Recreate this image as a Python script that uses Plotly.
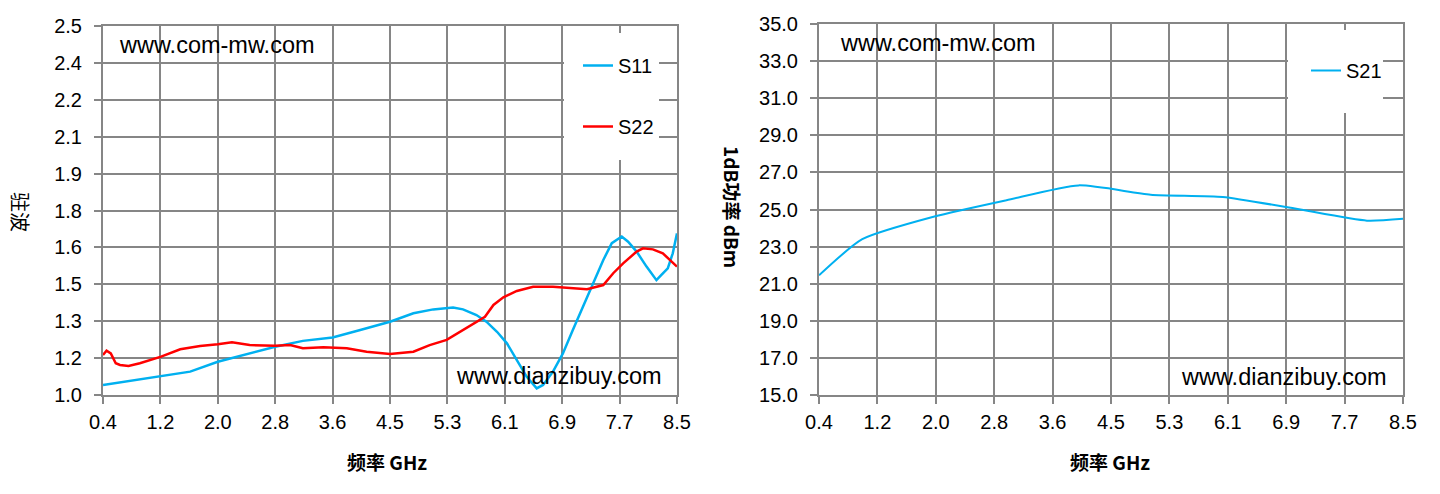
import plotly.graph_objects as go

# ---------------- data ----------------
x_tick_vals = [0.4 + 0.81 * i for i in range(11)]
x_tick_labels = ["0.4", "1.2", "2.0", "2.8", "3.6", "4.5", "5.3", "6.1", "6.9", "7.7", "8.5"]
vswr_tick_vals = [1.0 + 0.15 * i for i in range(11)]
vswr_tick_labels = ["1.0", "1.2", "1.3", "1.5", "1.6", "1.8", "1.9", "2.1", "2.2", "2.4", "2.5"]

s11_freq = [0.40, 0.69, 1.00, 1.22, 1.63, 2.02, 2.43, 2.83, 3.22, 3.64, 4.03, 4.31, 4.45,
            4.78, 5.06, 5.34, 5.48, 5.67, 5.81, 5.96, 6.10, 6.24, 6.38, 6.52, 6.61, 6.75,
            6.89, 7.03, 7.17, 7.31, 7.46, 7.58, 7.72, 7.81, 7.93, 8.07, 8.21, 8.28, 8.37,
            8.44, 8.50]
s11_vswr = [1.041, 1.054, 1.066, 1.075, 1.095, 1.135, 1.167, 1.196, 1.220, 1.234, 1.264,
            1.285, 1.298, 1.332, 1.348, 1.356, 1.348, 1.325, 1.298, 1.257, 1.210, 1.142,
            1.074, 1.027, 1.041, 1.095, 1.169, 1.264, 1.359, 1.454, 1.549, 1.617, 1.644,
            1.623, 1.583, 1.522, 1.467, 1.488, 1.515, 1.576, 1.657]

s22_freq = [0.40, 0.45, 0.51, 0.58, 0.64, 0.76, 0.92, 1.22, 1.49, 1.77, 2.02, 2.22, 2.47,
            2.83, 3.04, 3.22, 3.51, 3.84, 4.12, 4.45, 4.78, 5.01, 5.25, 5.48, 5.67, 5.79,
            5.91, 6.05, 6.24, 6.47, 6.75, 6.99, 7.23, 7.46, 7.60, 7.74, 7.93, 8.02, 8.16,
            8.30, 8.42, 8.50]
s22_vswr = [1.163, 1.180, 1.169, 1.129, 1.122, 1.118, 1.129, 1.156, 1.186, 1.199, 1.206,
            1.214, 1.203, 1.200, 1.203, 1.190, 1.194, 1.190, 1.176, 1.167, 1.176, 1.203,
            1.224, 1.264, 1.298, 1.318, 1.366, 1.397, 1.423, 1.440, 1.440, 1.434, 1.430,
            1.447, 1.495, 1.535, 1.583, 1.596, 1.592, 1.576, 1.542, 1.522]

s21_freq = [0.4, 1.0, 2.0, 3.0, 4.0, 5.0, 6.0, 7.0, 8.0, 8.5]
s21_p1db = [21.45, 23.4, 24.62, 25.5, 26.3, 25.8, 25.68, 25.05, 24.4, 24.5]

# ---------------- layout helpers ----------------
W, H = 1440, 494
def px(x):
    return x / W
def py(y):
    return 1 - y / H

GRID = "#868686"
FONT = "Liberation Sans, Arial, Noto Sans CJK SC, sans-serif"
CJK = "Noto Sans CJK SC, Liberation Sans, sans-serif"
BLUE = "#00B0F0"
RED = "#FF0000"

fig = go.Figure()
fig.add_trace(go.Scatter(x=s11_freq, y=s11_vswr, mode="lines", name="S11",
                         line=dict(color=BLUE, width=2.5), xaxis="x", yaxis="y",
                         legend="legend", legendgroup="a"))
fig.add_trace(go.Scatter(x=s22_freq, y=s22_vswr, mode="lines", name="S22",
                         line=dict(color=RED, width=2.5), xaxis="x", yaxis="y",
                         legend="legend", legendgroup="b"))
fig.add_trace(go.Scatter(x=s21_freq, y=s21_p1db, mode="lines", name="S21",
                         line=dict(color=BLUE, width=2, shape="spline", smoothing=0.6),
                         xaxis="x2", yaxis="y2", legend="legend2"))

axis_common = dict(showgrid=True, gridcolor=GRID, gridwidth=2, showline=True,
                   linecolor=GRID, linewidth=2, mirror=True, ticks="outside",
                   tickcolor=GRID, tickwidth=2, ticklen=7, zeroline=False,
                   tickfont=dict(family=FONT, size=20, color="#000000"),
                   automargin=False)

fig.update_layout(
    width=W, height=H,
    margin=dict(l=0, r=0, t=0, b=0),
    paper_bgcolor="white", plot_bgcolor="white",
    font=dict(family=FONT, color="#000000"),
    xaxis=dict(domain=[px(103), px(677)], range=[0.4, 8.5], tickvals=x_tick_vals,
               ticktext=x_tick_labels, anchor="y", ticklabelstandoff=1, **axis_common),
    yaxis=dict(domain=[py(395), py(26)], range=[1.0, 2.5], tickvals=vswr_tick_vals,
               ticktext=vswr_tick_labels, anchor="x", ticklabelstandoff=8, **axis_common),
    xaxis2=dict(domain=[px(819), px(1403)], range=[0.4, 8.5], tickvals=x_tick_vals,
                ticktext=x_tick_labels, anchor="y2", ticklabelstandoff=1, **axis_common),
    yaxis2=dict(domain=[py(395), py(24)], range=[15, 35], dtick=2, tick0=15,
                tickformat=".1f", anchor="x2", ticklabelstandoff=8, **axis_common),
    legend=dict(x=px(578), y=py(46), xanchor="left", yanchor="top",
                bgcolor="rgba(0,0,0,0)", borderwidth=0, tracegroupgap=32,
                font=dict(family=FONT, size=20, color="#000000")),
    legend2=dict(x=px(1306), y=py(51), xanchor="left", yanchor="top",
                 bgcolor="rgba(0,0,0,0)", borderwidth=0,
                 font=dict(family=FONT, size=20, color="#000000")),
    showlegend=True,
)

# white legend boxes (as in the original, covering the grid)
for (x0, y0, x1, y1) in [(564, 33, 659, 160), (1288, 30, 1383, 113)]:
    fig.add_shape(type="rect", xref="paper", yref="paper",
                  x0=px(x0), x1=px(x1), y0=py(y1), y1=py(y0),
                  fillcolor="white", line=dict(width=0), layer="above")

ann = [
    dict(text="www.com-mw.com", x=px(117), y=py(45), xanchor="left", size=23.5),
    dict(text="www.dianzibuy.com", x=px(454), y=py(376), xanchor="left", size=23.5),
    dict(text="www.com-mw.com", x=px(838), y=py(43), xanchor="left", size=23.5),
    dict(text="www.dianzibuy.com", x=px(1179), y=py(377), xanchor="left", size=23.5),
]
for a in ann:
    fig.add_annotation(text=a["text"], x=a["x"], y=a["y"], xref="paper", yref="paper",
                       xanchor=a["xanchor"], yanchor="middle", showarrow=False,
                       font=dict(family=FONT, size=a["size"], color="#000000"))

fig.add_annotation(text="<b>频率 GHz</b>", x=px(387), y=py(461), xref="paper", yref="paper",
                   showarrow=False, xanchor="center", yanchor="middle",
                   font=dict(family=CJK, size=19, color="#000000"))
fig.add_annotation(text="<b>频率 GHz</b>", x=px(1110), y=py(461), xref="paper", yref="paper",
                   showarrow=False, xanchor="center", yanchor="middle",
                   font=dict(family=CJK, size=19, color="#000000"))
fig.add_annotation(text="驻波", x=px(21), y=py(212), xref="paper", yref="paper",
                   showarrow=False, xanchor="center", yanchor="middle", textangle=90,
                   font=dict(family=CJK, size=20, color="#000000"))
fig.add_annotation(text="<b>1dB功率 dBm</b>", x=px(733), y=py(207), xref="paper", yref="paper",
                   showarrow=False, xanchor="center", yanchor="middle", textangle=90,
                   font=dict(family=CJK, size=19, color="#000000"))

fig.write_html("out.html", config={"displayModeBar": False},
               post_script="document.body.style.margin='0';document.body.style.overflow='hidden';")
